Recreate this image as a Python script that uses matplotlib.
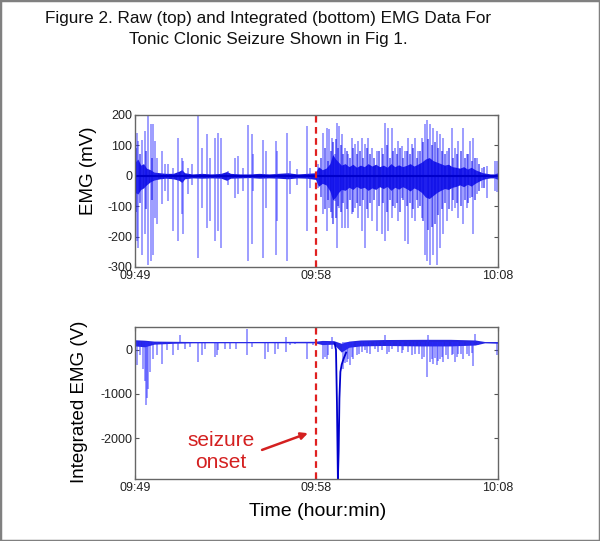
import numpy as np
import matplotlib
matplotlib.use('Agg')
import matplotlib.pyplot as plt
from matplotlib.patches import Rectangle

plt.rcParams['font.family'] = ['Liberation Sans', 'DejaVu Sans']
plt.rcParams['axes.unicode_minus'] = False

# time axis in minutes after 09:49
xticks = [0, 9.47, 19]
xticklabels = ['09:49', '09:58', '10:08']
onset = 9.47

# raw EMG: spike time (min), upper and lower extent (mV)
raw_t = [0.00, 0.09, 0.17, 0.35, 0.52, 0.70, 0.82, 0.96, 1.05, 1.13, 1.40, 1.57,
         1.75, 2.01, 2.27, 2.44, 2.53, 2.79, 2.97, 3.32, 3.49, 3.75, 3.93, 4.19,
         4.36, 4.48, 4.89, 5.23, 5.41, 5.67, 5.93, 6.11, 6.19, 6.72, 6.86, 7.38,
         7.45, 7.94, 8.11, 8.46, 8.99, 9.16, 9.60, 9.86, 10.03, 10.17, 10.30, 10.47,
         10.59, 10.70, 10.82, 10.99, 11.17, 11.34, 11.52, 11.69, 11.87, 12.04, 12.21, 12.39,
         12.65, 12.91, 13.08, 13.26, 13.43, 13.61, 13.78, 13.96, 14.13, 14.31, 14.48, 14.65,
         14.83, 15.00, 15.18, 15.26, 15.44, 15.61, 15.79, 15.96, 16.14, 16.31, 16.57, 16.75,
         16.92, 17.18, 17.36, 17.53, 17.71, 17.88, 18.14, 18.41, 18.84, 18.97]
raw_hi = [158, 142, 114, 119, 147, 202, 169, 169, 114, 60, 81, 38,
          38, 26, 125, 60, 48, 26, 38, 202, 92, 136, 60, 125,
          142, 125, 15, 60, 65, 26, 168, 136, 70, 119, 81, 114,
          81, 141, 48, 21, 164, 26, 38, 141, 158, 153, 125, 70,
          174, 164, 136, 92, 70, 125, 103, 114, 125, 103, 125, 92,
          81, 92, 174, 158, 158, 92, 114, 97, 81, 125, 103, 125,
          81, 125, 169, 185, 169, 158, 147, 136, 125, 81, 158, 92,
          114, 158, 70, 114, 125, 60, 26, 32, 48, 48]
raw_lo = [-270, -215, -237, -259, -193, -292, -281, -259, -138, -160, -94, -50,
          -83, -182, -215, -127, -193, -61, -29, -270, -105, -171, -149, -215,
          -182, -237, -29, -72, -61, -50, -281, -226, -50, -270, -105, -259,
          -149, -281, -61, -29, -182, -40, -40, -127, -182, -105, -138, -83,
          -237, -105, -171, -171, -171, -127, -105, -138, -182, -237, -138, -149,
          -182, -193, -215, -182, -138, -105, -149, -72, -215, -226, -138, -149,
          -105, -138, -259, -281, -292, -259, -292, -237, -193, -149, -116, -105,
          -138, -160, -105, -72, -193, -61, -40, -72, -50, -55]

# mid-sized strokes filling the seizure burst (mV)
mid_t = [0.05, 0.25, 0.6, 0.9, 9.75, 9.95, 10.10, 10.24, 10.38, 10.53, 10.65, 10.76,
         10.90, 11.08, 11.25, 11.43, 11.60, 11.78, 11.95, 12.12, 12.30, 12.50,
         12.78, 13.00, 13.17, 13.35, 13.52, 13.70, 13.87, 14.05, 14.22, 14.40,
         14.57, 14.75, 14.92, 15.10, 15.35, 15.52, 15.70, 15.87, 16.05, 16.22,
         16.45, 16.65, 16.85, 17.05, 17.27, 17.45, 17.62, 17.80, 18.00, 18.27]
mid_hi = [90, 70, 80, 60, 60, 90, 50, 80, 110, 120, 90, 100,
          70, 80, 60, 90, 70, 80, 60, 90, 70, 60,
          80, 70, 100, 60, 80, 70, 90, 60, 80, 70,
          90, 60, 80, 110, 120, 100, 110, 90, 80, 70,
          90, 60, 70, 80, 60, 70, 50, 60, 40, 30]
mid_lo = [-120, -90, -110, -80, -70, -110, -80, -120, -160, -140, -100, -120,
          -90, -110, -80, -120, -90, -100, -80, -110, -90, -80,
          -100, -90, -120, -80, -100, -90, -120, -80, -100, -90,
          -110, -80, -100, -150, -180, -170, -160, -130, -110, -90,
          -110, -80, -90, -100, -80, -90, -70, -80, -50, -40]

# dense core of the raw trace (mV)
core_t = [0.0, 0.15, 0.3, 0.45, 0.6, 0.8, 1.0, 1.3, 1.6, 2.0, 2.3, 2.45, 2.6, 3.0,
          3.5, 4.0, 4.5, 4.8, 5.0, 5.5, 6.0, 6.5, 7.0, 7.5, 8.0, 8.5, 9.0, 9.45,
          9.6, 9.8, 10.0, 10.2, 10.35, 10.5, 10.65, 10.8, 11.0, 11.2, 11.4, 11.6,
          11.8, 12.0, 12.2, 12.4, 12.6, 12.8, 13.0, 13.2, 13.4, 13.6, 13.8, 14.0,
          14.2, 14.4, 14.6, 14.8, 15.0, 15.2, 15.4, 15.6, 15.8, 16.0, 16.2, 16.4,
          16.6, 16.8, 17.0, 17.2, 17.4, 17.6, 17.8, 18.0, 18.2, 18.4, 18.6, 18.8, 19.0]
core_hi = [45, 55, 35, 40, 25, 20, 12, 10, 8, 8, 15, 20, 10, 6,
           8, 6, 8, 14, 8, 6, 6, 8, 6, 8, 10, 6, 8, 10,
           30, 20, 25, 40, 70, 55, 45, 35, 40, 30, 38, 28,
           35, 30, 40, 32, 38, 30, 35, 28, 40, 30, 36, 30,
           34, 40, 32, 38, 45, 55, 60, 50, 45, 40, 35, 38,
           30, 28, 25, 30, 22, 28, 20, 15, 10, 8, 6, 6, 10]
core_lo = [-55, -60, -45, -40, -30, -20, -14, -10, -8, -10, -15, -22, -10, -7,
           -8, -7, -8, -15, -8, -7, -6, -8, -7, -8, -10, -7, -8, -12,
           -35, -25, -30, -50, -80, -70, -55, -45, -48, -38, -45, -35,
           -42, -38, -48, -40, -45, -36, -42, -35, -48, -38, -44, -36,
           -42, -50, -40, -46, -55, -70, -75, -65, -55, -48, -42, -45,
           -38, -35, -30, -36, -28, -34, -25, -18, -12, -9, -7, -7, -12]

# integrated EMG baseline band (V)
base_t = [0, 0.5, 1, 2, 3, 6, 9.4, 9.8, 10.4, 10.8, 11.2, 11.8, 13, 15, 16.5, 17.8, 18.3, 19]
base_hi = [230, 220, 200, 195, 190, 190, 195, 215, 210, 150, 200, 225, 235, 240, 240, 225, 190, 190]
base_lo = [90, 70, 130, 150, 160, 162, 160, 120, 130, -50, 60, 90, 100, 90, 90, 110, 160, 150]

# integrated EMG downward spikes (V)
int_t = [0.00, 0.09, 0.26, 0.44, 0.52, 0.58, 0.64, 0.70, 0.79, 0.96, 1.13, 1.40,
         1.66, 2.01, 2.27, 2.62, 2.88, 3.32, 3.49, 3.66, 4.19, 4.27, 4.36, 4.71,
         4.97, 5.29, 5.85, 6.11, 6.80, 6.98, 7.33, 7.50, 7.90, 8.11, 8.37, 8.99,
         9.34, 9.86, 9.95, 10.03, 10.12, 10.29, 10.90, 11.08, 11.25, 11.43, 11.60, 11.86,
         12.04, 12.30, 12.56, 12.91, 13.17, 13.43, 13.78, 14.04, 14.31, 14.66, 15.00, 15.27,
         15.44, 15.61, 15.79, 15.96, 16.14, 16.40, 16.57, 16.75, 16.92, 17.19, 17.36, 17.71,
         17.97, 18.93, 11.00, 11.17, 11.35, 11.70, 12.15, 12.70, 13.30, 13.95, 14.50, 14.85,
         15.15, 15.52, 15.70, 15.88, 16.05, 16.30, 16.65, 16.85, 17.05, 17.50, 17.62]
int_v = [-576, -350, -121, -424, -700, -1258, -1100, -879, -500, -197, -121, -311,
         -8, -121, -8, 30, 68, -273, -121, 30, -159, -121, -8, 30,
         30, 30, -121, 68, -197, -45, -83, 30, -45, 106, 144, -197,
         106, -197, -150, -197, -121, 30, -424, -273, -350, -197, -121, -45,
         -8, -83, 30, -8, -83, 30, -45, -8, -45, -83, -197, -625,
         -273, -311, -350, -197, -273, -197, -121, -273, -83, -197, -83, -360,
         106, -120, -300, -200, -150, -100, -60, -40, -50, -60, -120, -100,
         -150, -200, -180, -250, -150, -120, -100, -160, -90, -130, -70]

# integrated EMG upward spikes (V)
up_t = [2.36, 5.85, 7.90, 10.29, 13.08, 15.35, 17.80]
up_v = [333, 485, 295, 295, 333, 333, 370]

# large dip after onset (V)
dip_t = [10.45, 10.52, 10.57, 10.62, 10.66, 10.70, 10.75, 10.82, 10.92, 11.05]
dip_v = [150, 0, -1200, -2930, -2300, -1100, -500, -330, -200, -60]

fig = plt.figure(figsize=(6, 5.41), dpi=100)

fig.text(0.447, 1 - 29 / 541, 'Figure 2. Raw (top) and Integrated (bottom) EMG Data For\n'
         'Tonic Clonic Seizure Shown in Fig 1.', ha='center', va='center',
         fontsize=12.3, linespacing=1.55, color='#111111')

ax1 = fig.add_axes([0.225, 0.5065, 0.605, 0.281])
ax2 = fig.add_axes([0.225, 0.1146, 0.605, 0.281])

ax1.vlines(raw_t, raw_lo, raw_hi, color='#2a2aff', alpha=0.58, lw=1.1)
ax1.vlines(mid_t, mid_lo, mid_hi, color='#1010ee', alpha=0.7, lw=1.1)
ax1.fill_between(core_t, core_lo, core_hi, color='#0000dd', lw=0, alpha=0.9)
ax1.axhline(0, color='#0000cc', lw=1.5)
ax1.set_ylim(-300, 200)
ax1.set_yticks([-300, -200, -100, 0, 100, 200])
ax1.set_ylabel('EMG (mV)', fontsize=13.5)
ax1.yaxis.set_label_coords(-0.105, 0.63)

ax2.vlines(int_t, 170, int_v, color='#2a2aff', alpha=0.6, lw=1.1)
ax2.vlines(up_t, 170, up_v, color='#2a2aff', alpha=0.6, lw=1.1)
ax2.fill_between(base_t, base_lo, base_hi, color='#0000dd', lw=0, alpha=0.85)
ax2.plot(dip_t, dip_v, color='#0000cc', lw=1.3)
ax2.set_ylim(-2930, 520)
ax2.set_yticks([-2000, -1000, 0])
ax2.set_ylabel('Integrated EMG (V)', fontsize=13.5)
ax2.yaxis.set_label_coords(-0.13, 0.51)
ax2.set_xlabel('Time (hour:min)', fontsize=14)
ax2.xaxis.set_label_coords(0.504, -0.158)

ax2.text(4.5, -2295, 'seizure\nonset', color='#d42020', fontsize=15,
         ha='center', va='center', linespacing=1.2)
ax2.annotate('', xy=(9.05, -1890), xytext=(6.65, -2270),
             arrowprops=dict(arrowstyle='-|>', color='#d42020', lw=1.8,
                             mutation_scale=10, shrinkA=0, shrinkB=0))

for ax in (ax1, ax2):
    ax.axvline(onset, color='#e02020', lw=1.6, ls=(0, (3, 2)))
    ax.set_xlim(0, 19)
    ax.set_xticks(xticks)
    ax.set_xticklabels(xticklabels)
    ax.tick_params(direction='in', top=True, right=True, length=3, width=0.8,
                   labelsize=9, pad=2, colors='#555555', labelcolor='#222222')
    for s in ax.spines.values():
        s.set_color('#666666')
        s.set_linewidth(1.0)

fig.patches.append(Rectangle((0, 0), 1, 1, transform=fig.transFigure, fill=False,
                             ec='#808080', lw=2.5))

fig.savefig('out.png', dpi=100)
